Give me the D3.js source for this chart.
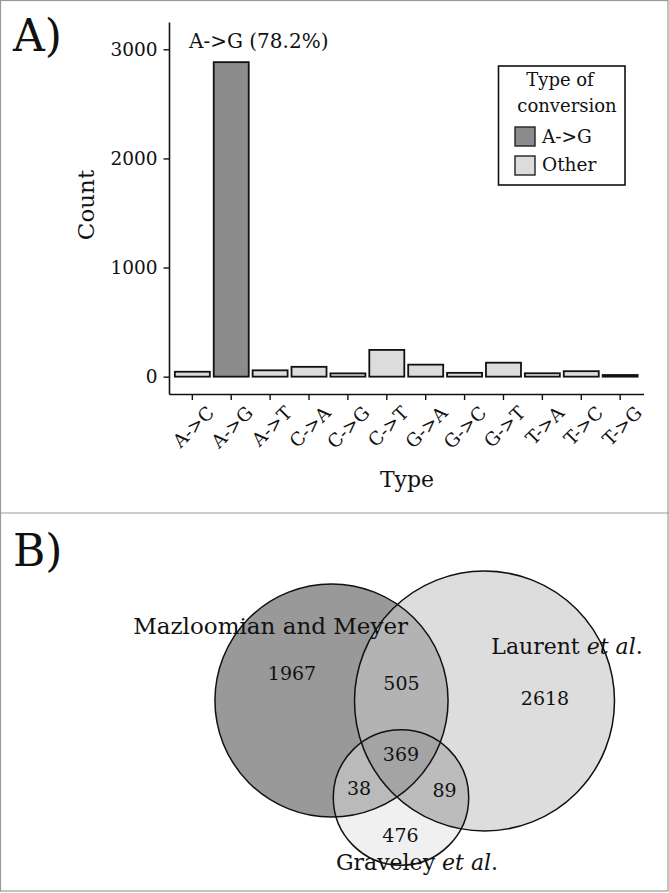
<!DOCTYPE html>
<html>
<head>
<meta charset="utf-8">
<script src="https://cdn.jsdelivr.net/npm/d3@7"></script>
<style>
  body { margin: 0; background: #fff; }
  text { font-family: "DejaVu Serif", serif; fill: #111; }
</style>
</head>
<body>
<div class="chart"></div>
<script>
// panel A data
var types = ["A->C", "A->G", "A->T", "C->A", "C->G", "C->T", "G->A", "G->C", "G->T", "T->A", "T->C", "T->G"];
var counts = [45, 2882, 58, 90, 30, 245, 110, 35, 128, 31, 50, 15];
var yTicks = [0, 1000, 2000, 3000];
var legendKeys = ["A->G", "Other"];

// panel B data
var setNames = ["Mazloomian and Meyer", "Laurent", "Graveley"];
var setSizes = [2879, 3581, 972];
var regionCounts = [1967, 2618, 476, 505, 38, 89, 369];
var regionSets = [["M"], ["L"], ["G"], ["M", "L"], ["M", "G"], ["L", "G"], ["M", "L", "G"]];

var svgWidth = 669;
var svgHeight = 893;

var svg = d3.select(".chart")
  .append("svg")
  .attr("width", svgWidth)
  .attr("height", svgHeight);

// frame round both panels
svg.append("rect")
  .attr("x", 0.5).attr("y", 0.5)
  .attr("width", 667.5).attr("height", 890.5)
  .attr("fill", "none").attr("stroke", "#999").attr("stroke-width", 1.2);
svg.append("line")
  .attr("x1", 0).attr("x2", svgWidth)
  .attr("y1", 513).attr("y2", 513)
  .attr("stroke", "#999").attr("stroke-width", 1.2);

// ---------- Panel A: bar chart ----------
var fillFor = { "A->G": "#8c8c8c", "Other": "#dcdcdc" };
function convType(t) { return t === "A->G" ? "A->G" : "Other"; }

var x = d3.scaleBand()
  .domain(types)
  .range([169, 643.5])
  .paddingInner(0.1)
  .paddingOuter(0.15);

var y = d3.scaleLinear()
  .domain([-159, 3250])
  .range([394, 22]);

var chartA = svg.append("g");

chartA.selectAll("rect.bar")
  .data(types)
  .enter()
  .append("rect")
  .attr("class", "bar")
  .attr("x", d => x(d))
  .attr("width", x.bandwidth())
  .attr("y", (d, i) => y(counts[i]))
  .attr("height", (d, i) => y(0) - y(counts[i]))
  .attr("fill", d => fillFor[convType(d)])
  .attr("stroke", "#111")
  .attr("stroke-width", 1.8);

// y axis
var yAxis = chartA.append("g")
  .attr("transform", "translate(169,0)")
  .call(d3.axisLeft(y).tickValues(yTicks).tickSize(5.5).tickSizeOuter(0).tickPadding(6).tickFormat(d3.format("d")));
yAxis.select(".domain").attr("stroke", "#111").attr("stroke-width", 1.6);
yAxis.selectAll(".tick line").attr("stroke", "#111").attr("stroke-width", 1.4);
yAxis.selectAll(".tick text")
  .attr("font-size", "18.5px")
  .attr("font-family", "DejaVu Serif")
  .attr("fill", "#111");

// x axis
var xAxis = chartA.append("g")
  .attr("transform", "translate(0,394)")
  .call(d3.axisBottom(x).tickSize(6).tickSizeOuter(0));
xAxis.select(".domain").attr("stroke", "#111").attr("stroke-width", 1.6);
xAxis.selectAll(".tick line").attr("stroke", "#111").attr("stroke-width", 1.4);
xAxis.selectAll(".tick text")
  .attr("x", 0).attr("y", 0).attr("dy", 0)
  .attr("text-anchor", "end")
  .attr("transform", "translate(23,20) rotate(-45)")
  .attr("font-size", "18.5px")
  .attr("font-family", "DejaVu Serif")
  .attr("fill", "#111");

// axis titles
chartA.append("text")
  .attr("transform", "translate(94,205) rotate(-90)")
  .attr("text-anchor", "middle")
  .attr("font-size", "23px")
  .text("Count");

chartA.append("text")
  .attr("x", 407).attr("y", 487)
  .attr("text-anchor", "middle")
  .attr("font-size", "22px")
  .text("Type");

// annotation
chartA.append("text")
  .attr("x", 189).attr("y", 48)
  .attr("font-size", "20px")
  .text("A->G (78.2%)");

// legend
var legend = chartA.append("g");
legend.append("rect")
  .attr("x", 498.5).attr("y", 66)
  .attr("width", 126.5).attr("height", 119)
  .attr("fill", "#fff").attr("stroke", "#111").attr("stroke-width", 1.6);
legend.append("text").attr("x", 560).attr("y", 86)
  .attr("text-anchor", "middle").attr("font-size", "18px").text("Type of");
legend.append("text").attr("x", 567).attr("y", 112)
  .attr("text-anchor", "middle").attr("font-size", "18px").text("conversion");
legendKeys.forEach(function(k, i) {
  legend.append("rect")
    .attr("x", 515).attr("y", 127 + i * 29)
    .attr("width", 20).attr("height", 19)
    .attr("fill", fillFor[k]).attr("stroke", "#222").attr("stroke-width", 1.4);
  legend.append("text")
    .attr("x", 542).attr("y", 143 + i * 28)
    .attr("font-size", "18.5px")
    .text(k);
});

// panel letters
svg.append("text").attr("x", 13).attr("y", 51).attr("font-size", "44px").text("A)");
svg.append("text").attr("x", 13).attr("y", 566).attr("font-size", "44px").text("B)");

// ---------- Panel B: Venn diagram ----------
var r = d3.scaleSqrt().domain([0, d3.max(setSizes)]).range([0, 130]);
var centers = { M: [331.5, 700.5], L: [484.5, 701], G: [401, 797.5] };
var keys = ["M", "L", "G"];
var circles = keys.map((k, i) => ({ key: k, cx: centers[k][0], cy: centers[k][1], r: r(setSizes[i]) }));

var regionFill = {
  "M": "#999999", "L": "#dddddd", "G": "#f0f0f0",
  "M,L": "#b3b3b3", "M,G": "#bababa", "L,G": "#bcbcbc", "M,L,G": "#a4a4a4"
};

var defs = svg.append("defs");
circles.forEach(function(c) {
  defs.append("clipPath").attr("id", "clip-" + c.key)
    .append("circle").attr("cx", c.cx).attr("cy", c.cy).attr("r", c.r);
});

var venn = svg.append("g");
// painter's order: single sets, then pairs, then the triple
regionSets.slice().sort((a, b) => a.length - b.length).forEach(function(sets) {
  var g = venn;
  sets.slice(1).forEach(function(s) {
    g = g.append("g").attr("clip-path", "url(#clip-" + s + ")");
  });
  var c = circles.find(cc => cc.key === sets[0]);
  g.append("circle")
    .attr("cx", c.cx).attr("cy", c.cy).attr("r", c.r)
    .attr("fill", regionFill[sets.join(",")]);
});

venn.selectAll("circle.outline")
  .data(circles)
  .enter()
  .append("circle")
  .attr("class", "outline")
  .attr("cx", d => d.cx).attr("cy", d => d.cy).attr("r", d => d.r)
  .attr("fill", "none").attr("stroke", "#111").attr("stroke-width", 1.5);

// region counts
var regionPos = [[292, 680], [545, 705], [400.5, 842], [401.5, 690], [359, 795], [444.5, 797], [401, 761]];
venn.selectAll("text.count")
  .data(regionCounts)
  .enter()
  .append("text")
  .attr("class", "count")
  .attr("x", (d, i) => regionPos[i][0])
  .attr("y", (d, i) => regionPos[i][1])
  .attr("text-anchor", "middle")
  .attr("font-size", "19px")
  .text(d => d);

// set labels
venn.append("text")
  .attr("x", 408).attr("y", 634)
  .attr("text-anchor", "end")
  .attr("font-size", "23px")
  .text(setNames[0]);

var lLab = venn.append("text")
  .attr("x", 567).attr("y", 654)
  .attr("text-anchor", "middle")
  .attr("font-size", "22px");
lLab.append("tspan").text(setNames[1] + " ");
lLab.append("tspan").attr("font-style", "italic").text("et al");
lLab.append("tspan").text(".");

var gLab = venn.append("text")
  .attr("x", 417).attr("y", 870)
  .attr("text-anchor", "middle")
  .attr("font-size", "22px");
gLab.append("tspan").text(setNames[2] + " ");
gLab.append("tspan").attr("font-style", "italic").text("et al");
gLab.append("tspan").text(".");
</script>
</body>
</html>
